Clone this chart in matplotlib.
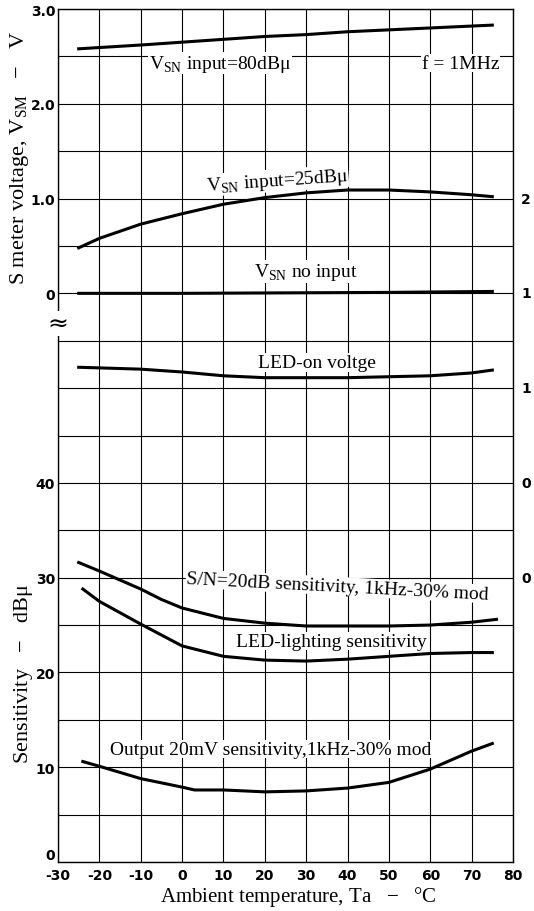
import numpy as np
import matplotlib.pyplot as plt

vsn80_t = [-25, -10, 0, 10, 20, 30, 40, 50, 60, 70, 75]
vsn80 = [2.58, 2.62, 2.65, 2.68, 2.71, 2.73, 2.76, 2.78, 2.80, 2.82, 2.83]

vsn25_t = [-25, -20, -10, 0, 10, 20, 30, 40, 50, 60, 70, 75]
vsn25 = [0.48, 0.58, 0.73, 0.84, 0.94, 1.01, 1.06, 1.09, 1.09, 1.07, 1.04, 1.02]

vsn0_t = [-25, 0, 25, 50, 75]
vsn0 = [0.0, 0.0, 0.005, 0.01, 0.02]

led_on_t = [-25, -10, 0, 10, 20, 30, 40, 50, 60, 70, 75]
led_on = [1.11, 1.10, 1.085, 1.065, 1.055, 1.055, 1.055, 1.06, 1.065, 1.08, 1.095]

sn_t = [-25, -20, -10, -5, 0, 10, 20, 30, 40, 50, 60, 70, 76]
sn = [31.6, 30.7, 28.8, 27.7, 26.8, 25.7, 25.2, 24.9, 24.9, 24.9, 25.0, 25.3, 25.6]

ledl_t = [-24, -20, -10, 0, 10, 20, 30, 40, 50, 60, 70, 75]
ledl = [28.8, 27.5, 25.1, 22.8, 21.7, 21.3, 21.2, 21.4, 21.7, 22.0, 22.1, 22.1]

out_t = [-24, -20, -10, 0, 3, 10, 20, 30, 40, 50, 60, 70, 75]
out20 = [10.6, 10.1, 8.8, 7.9, 7.6, 7.6, 7.4, 7.5, 7.8, 8.4, 9.8, 11.7, 12.5]

xticks = [-30, -20, -10, 0, 10, 20, 30, 40, 50, 60, 70, 80]
left_ticks = [0, 10, 20, 30, 40, 60, 70, 80, 90]
left_labels = ['0', '10', '20', '30', '40', '0', '1.0', '2.0', '3.0']
# right-hand scale is cropped in the source; only the first digit shows
right_ticks = [30, 40, 50, 60, 70]
right_labels = ['0', '0', '1', '1', '2']


def v_upper(v):
    # S meter voltage shares the grid: 0 V sits at 60, 1 V per 10 units
    return 60 + 10 * np.asarray(v)


def v_right(v):
    # right-hand scale (LED-on voltage): 0 V at 30, 0.5 V per 10 units
    return 30 + 20 * np.asarray(v)


plt.rcParams['mathtext.fontset'] = 'custom'
plt.rcParams['mathtext.rm'] = 'Liberation Serif'
serif = 'Liberation Serif'

fig = plt.figure(figsize=(5.34, 9.12), dpi=100)
ax = fig.add_axes([58 / 534, 49 / 912, 455 / 534, 853 / 912])
ax.set_xlim(-30, 80)
ax.set_ylim(0, 90)

for x in range(-30, 81, 10):
    ax.axvline(x, color='black', lw=0.8, zorder=1)
for y in range(0, 91, 5):
    ax.axhline(y, color='black', lw=0.8, zorder=1)

lw = 2.2
ax.plot(vsn80_t, v_upper(vsn80), color='black', lw=lw, zorder=3)
ax.plot(vsn25_t, v_upper(vsn25), color='black', lw=lw, zorder=3)
ax.plot(vsn0_t, v_upper(vsn0), color='black', lw=lw, zorder=3)
ax.plot(led_on_t, v_right(led_on), color='black', lw=lw, zorder=3)
ax.plot(sn_t, sn, color='black', lw=lw, zorder=3)
ax.plot(ledl_t, ledl, color='black', lw=lw, zorder=3)
ax.plot(out_t, out20, color='black', lw=lw, zorder=3)

box = dict(facecolor='white', edgecolor='none', pad=0.5)
fs = 14
ax.text(9.1, 84.3, r'V$_{\mathrm{SN}}$ input=80dB$\mathrm{\mu}$', family=serif, fontsize=fs,
        ha='center', va='center', bbox=box, zorder=4)
ax.text(67.3, 84.3, 'f = 1MHz', family=serif, fontsize=fs, ha='center', va='center',
        bbox=box, zorder=4)
ax.text(22.9, 71.9, r'V$_{\mathrm{SN}}$ input=25dB$\mathrm{\mu}$', family=serif, fontsize=fs,
        ha='center', va='center', rotation=4, bbox=box, zorder=4)
ax.text(29.9, 62.3, r'V$_{\mathrm{SN}}$ no input', family=serif, fontsize=fs,
        ha='center', va='center', bbox=box, zorder=4)
ax.text(32.6, 52.7, 'LED-on voltge', family=serif, fontsize=fs, ha='center', va='center',
        bbox=box, zorder=4)
ax.text(37.6, 29.1, 'S/N=20dB sensitivity, 1kHz-30% mod', family=serif, fontsize=fs,
        ha='center', va='center', rotation=-3, bbox=box, zorder=4)
ax.text(36.2, 23.3, 'LED-lighting sensitivity', family=serif, fontsize=fs,
        ha='center', va='center', bbox=box, zorder=4)
ax.text(21.4, 11.9, 'Output 20mV sensitivity,1kHz-30% mod', family=serif, fontsize=fs,
        ha='center', va='center', bbox=box, zorder=4)

# axis break mark on the left edge
ax.text(-30, 56.8, '≈', fontsize=18, ha='center', va='center',
        bbox=dict(facecolor='white', edgecolor='none', pad=0.2), zorder=5, clip_on=False)

for s in ax.spines.values():
    s.set_linewidth(1.0)
ax.set_xticks(xticks)
ax.set_xticklabels([str(t) for t in xticks], fontsize=10, fontweight='bold')
ax.set_yticks(left_ticks)
ax.set_yticklabels(left_labels, fontsize=10, fontweight='bold')
ax.tick_params(axis='x', length=0, pad=4)
ax.tick_params(axis='y', length=0, pad=2)
ax.get_yticklabels()[0].set_va('bottom')

for y, lab in zip(right_ticks, right_labels):
    fig.text(521 / 534, 1 - (863 - y * 9.478) / 912, lab, fontsize=10, fontweight='bold',
             ha='left', va='center')

fig.text(20 / 534, 1 - 158 / 912, r'S meter voltage, V$_{\mathrm{SM}}$   $-$   V',
         family=serif, fontsize=16, rotation=90, ha='center', va='center')
fig.text(24 / 534, 1 - 674 / 912, 'Sensitivity   $-$   dB\u03bc', family=serif, fontsize=16,
         rotation=90, ha='center', va='center')
fig.text(298 / 534, 1 - 897 / 912, 'Ambient temperature, Ta   $-$   °C', family=serif,
         fontsize=15, ha='center', va='center')

fig.savefig('out.png', dpi=100)
